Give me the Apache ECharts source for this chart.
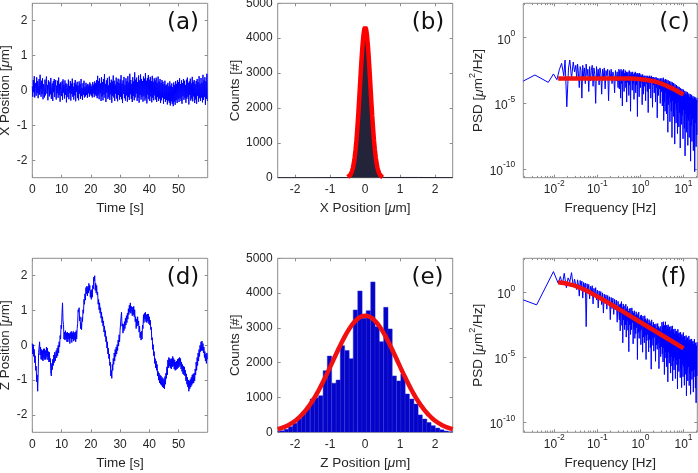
<!DOCTYPE html>
<html><head><meta charset="utf-8">
<script src="https://cdn.jsdelivr.net/npm/echarts@6/dist/echarts.min.js"></script>
<style>html,body{margin:0;padding:0;background:#fff}#c{width:698px;height:473px}</style>
</head><body><div id="c"></div>
<script>
// ---------------- DATA ----------------
const SAMPLE_PERIOD_S = 1 / 6;

const xPosition = [
0.12,-0.18,0.30,-0.05,0.41,-0.20,0.22,0.05,-0.15,0.38,-0.08,0.27,
-0.22,0.15,0.33,-0.12,0.45,0.02,-0.18,0.28,-0.10,0.35,-0.25,0.18,
0.06,-0.20,0.31,-0.14,0.24,0.40,-0.09,0.16,-0.28,0.29,0.03,-0.17,
0.25,-0.11,0.36,-0.24,0.12,0.20,-0.30,0.27,-0.05,0.33,-0.19,0.09,
0.30,-0.26,0.14,-0.08,0.28,-0.21,0.37,-0.13,0.19,-0.32,0.23,0.04,
-0.16,0.26,-0.27,0.32,-0.06,0.15,-0.23,0.29,-0.12,0.21,-0.34,0.18,
0.08,-0.19,0.31,-0.25,0.13,-0.07,0.27,-0.29,0.20,-0.10,0.34,-0.18,
0.11,-0.26,0.22,-0.14,0.30,-0.31,0.17,-0.04,0.25,-0.22,0.14,-0.28,
0.26,-0.09,0.19,-0.24,0.33,-0.16,0.07,-0.27,0.21,-0.12,0.28,-0.20,
0.10,-0.17,0.22,-0.13,0.16,-0.21,0.19,-0.08,0.14,-0.18,0.23,-0.11,
0.18,-0.15,0.12,-0.20,0.24,-0.09,0.17,-0.19,0.26,-0.12,0.21,-0.16,
0.30,-0.22,0.42,-0.14,0.27,-0.25,0.35,-0.08,0.20,-0.30,0.38,-0.17,
0.24,-0.28,0.33,-0.12,0.47,-0.21,0.19,-0.33,0.29,-0.06,0.36,-0.24,
0.15,-0.19,0.40,-0.27,0.22,-0.11,0.31,-0.35,0.26,-0.15,0.43,-0.20,
0.28,-0.30,0.17,-0.09,0.37,-0.23,0.25,-0.31,0.34,-0.13,0.21,-0.26,
0.32,-0.18,0.44,-0.25,0.20,-0.36,0.29,-0.10,0.39,-0.22,0.16,-0.29,
0.35,-0.14,0.27,-0.32,0.41,-0.19,0.23,-0.27,0.48,-0.11,0.30,-0.24,
0.19,-0.33,0.38,-0.16,0.26,-0.28,0.52,-0.20,0.31,-0.09,0.37,-0.30,
0.24,-0.21,0.43,-0.35,0.29,-0.13,0.46,-0.26,0.33,-0.18,0.27,-0.32,
0.40,-0.15,0.34,-0.29,0.50,-0.22,0.28,-0.37,0.36,-0.12,0.44,-0.25,
0.31,-0.30,0.39,-0.17,0.27,-0.34,0.42,-0.21,0.25,-0.28,0.35,-0.14,
0.29,-0.26,0.37,-0.33,0.22,-0.19,0.40,-0.30,0.26,-0.23,0.33,-0.36,
0.21,-0.28,0.30,-0.20,0.25,-0.38,0.18,-0.24,0.28,-0.33,0.15,-0.27,
0.17,-0.40,0.22,-0.29,0.12,-0.35,0.26,-0.43,0.14,-0.31,0.20,-0.38,
0.10,-0.45,0.23,-0.32,0.16,-0.41,0.27,-0.28,0.19,-0.36,0.30,-0.25,
0.24,-0.33,0.35,-0.22,0.18,-0.30,0.29,-0.38,0.21,-0.16,0.33,-0.27,
0.28,-0.21,0.16,-0.35,0.31,-0.24,0.37,-0.18,0.22,-0.40,0.26,-0.13,
0.34,-0.29,0.20,-0.23,0.39,-0.31,0.25,-0.17,0.30,-0.36,0.18,-0.26,
0.27,-0.38,0.33,-0.15,0.24,-0.32,0.41,-0.22,0.19,-0.30,0.36,-0.20,
0.22,-0.34,0.45,-0.27,0.29,-0.19,0.38,-0.41,0.26,-0.24,0.48,-0.30
];

const zPosition = [
0.05,-0.25,0.02,-0.32,-0.12,-0.50,-0.30,-0.72,-0.60,-1.05,-0.85,-1.32,
-0.85,-0.20,-0.25,0.10,-0.28,-0.05,-0.40,-0.12,-0.42,-0.15,-0.45,-0.10,
-0.38,-0.10,-0.42,-0.15,-0.40,-0.05,-0.33,-0.08,-0.42,-0.18,-0.48,-0.20,
-0.48,-0.38,-0.80,-0.88,-0.52,-0.70,-0.40,-0.58,-0.28,-0.50,-0.20,-0.45,
-0.42,-0.15,-0.36,-0.08,-0.30,0.00,-0.22,0.10,-0.05,0.28,0.18,0.58,
0.48,0.95,1.22,0.70,0.60,0.18,0.38,0.15,0.42,0.18,0.36,0.10,
0.38,0.10,0.35,0.18,0.34,0.05,0.37,0.20,0.40,0.08,0.36,0.18,
0.40,0.12,0.36,0.16,0.38,0.10,0.42,0.18,0.48,0.62,1.02,0.95,
1.08,0.70,0.82,0.48,0.66,0.45,0.80,0.68,1.02,0.92,1.32,1.18,
1.48,1.30,1.66,1.48,1.70,1.42,1.68,1.50,1.78,1.58,1.72,1.38,
1.58,1.32,1.60,1.38,1.72,1.62,1.96,1.85,2.00,1.58,1.78,1.50,
1.72,1.45,1.52,1.18,1.32,1.02,1.22,0.92,1.08,0.78,0.95,0.65,
0.82,0.55,0.70,0.38,0.55,0.25,0.42,0.10,0.25,-0.08,0.10,-0.25,
-0.08,-0.38,-0.25,-0.58,-0.48,-0.88,-0.72,-0.95,-0.55,-0.72,-0.38,-0.55,
-0.22,-0.45,-0.12,-0.32,-0.05,-0.25,0.02,-0.15,0.15,-0.02,0.30,0.10,
0.42,0.38,0.82,0.95,0.55,0.62,0.35,0.60,0.42,0.68,0.48,0.78,
0.58,0.85,0.65,0.92,0.75,1.05,0.88,1.15,0.95,1.22,0.92,1.12,
1.08,0.85,1.10,0.88,1.12,0.82,1.02,0.68,0.82,0.48,0.75,0.55,
0.82,0.58,0.70,0.38,0.55,0.22,0.38,0.15,0.40,0.18,0.58,0.48,
0.88,0.65,0.92,0.75,0.95,0.68,0.88,0.65,0.90,0.70,0.90,0.62,
0.82,0.58,0.72,0.45,0.52,0.15,0.22,-0.12,0.02,-0.30,-0.18,-0.52,
-0.38,-0.65,-0.45,-0.72,-0.55,-0.88,-0.75,-1.00,-0.80,-1.08,-0.85,-1.12,
-0.88,-1.15,-0.92,-1.20,-0.95,-1.22,-0.98,-1.25,-0.90,-1.12,-0.80,-0.95,
-0.62,-0.85,-0.42,-0.65,-0.35,-0.60,-0.38,-0.65,-0.40,-0.68,-0.38,-0.62,
-0.32,-0.60,-0.38,-0.68,-0.42,-0.72,-0.48,-0.70,-0.45,-0.68,-0.40,-0.65,
-0.38,-0.62,-0.35,-0.58,-0.38,-0.68,-0.48,-0.75,-0.55,-0.82,-0.60,-0.85,
-0.62,-0.88,-0.72,-1.02,-0.82,-1.12,-0.92,-1.20,-1.00,-1.32,-1.02,-1.25,
-0.98,-1.20,-0.92,-1.15,-0.85,-1.10,-0.82,-1.08,-0.80,-1.02,-0.68,-0.85,
-0.48,-0.72,-0.35,-0.58,-0.22,-0.45,-0.12,-0.32,0.00,-0.18,0.10,-0.15,
0.12,-0.15,0.05,-0.22,-0.05,-0.35,-0.18,-0.45,-0.25,-0.52,-0.22,-0.40
];

// (b) X histogram (step outline) and Gaussian fit
const xHistCenters = [-2.50,-0.54,-0.50,-0.46,-0.42,-0.38,-0.34,-0.30,-0.26,-0.22,-0.18,-0.14,-0.10,-0.06,-0.02,0.02,0.06,0.10,0.14,0.18,0.22,0.26,0.30,0.34,0.38,0.42,0.46,0.50,0.54,2.50];
const xHistCounts  = [0,6,15,36,80,170,320,590,940,1480,2080,2800,3420,3990,4280,4250,3950,3460,2760,2110,1450,970,570,340,165,90,40,18,7,0];
const xFitX = [-0.5,-0.475,-0.45,-0.425,-0.4,-0.375,-0.35,-0.325,-0.3,-0.275,-0.25,-0.225,-0.2,-0.175,-0.15,-0.125,-0.1,-0.075,-0.05,-0.025,0,0.025,0.05,0.075,0.1,0.125,0.15,0.175,0.2,0.225,0.25,0.275,0.3,0.325,0.35,0.375,0.4,0.425,0.45,0.475,0.5];
const xFitY = [17,29,48,78,123,190,284,413,585,804,1077,1403,1776,2187,2620,3053,3460,3812,4087,4260,4320,4260,4087,3812,3460,3053,2620,2187,1776,1403,1077,804,585,413,284,190,123,78,48,29,17];

// (e) Z histogram and Gaussian fit
const zHistBinWidth = 0.123;
const zHistCenters = [-2.50,-2.38,-2.25,-2.13,-2.01,-1.88,-1.76,-1.64,-1.51,-1.39,-1.27,-1.14,-1.02,-0.89,-0.77,-0.65,-0.52,-0.40,-0.28,-0.15,-0.03,0.09,0.22,0.34,0.46,0.59,0.71,0.83,0.96,1.08,1.20,1.33,1.45,1.57,1.70,1.82,1.94,2.07,2.19,2.31,2.44];
const zHistCounts  = [20,45,90,160,260,380,520,700,957,990,1050,1770,2190,1410,1500,2490,2350,2115,3515,4060,3275,3495,4320,3035,2605,3590,2970,1620,1475,1675,1100,955,810,500,380,280,190,120,70,35,15];
const zFitX = [-2.5,-2.4,-2.3,-2.2,-2.1,-2.0,-1.9,-1.8,-1.7,-1.6,-1.5,-1.4,-1.3,-1.2,-1.1,-1.0,-0.9,-0.8,-0.7,-0.6,-0.5,-0.4,-0.3,-0.2,-0.1,0,0.1,0.2,0.3,0.4,0.5,0.6,0.7,0.8,0.9,1.0,1.1,1.2,1.3,1.4,1.5,1.6,1.7,1.8,1.9,2.0,2.1,2.2,2.3,2.4,2.5];
const zFitY = [90,120,157,204,262,332,415,515,630,763,913,1079,1261,1458,1665,1879,2098,2314,2524,2721,2899,3054,3180,3273,3331,3350,3331,3273,3180,3054,2899,2721,2524,2314,2098,1879,1665,1458,1261,1079,913,763,630,515,415,332,262,204,157,120,90];

// (c),(f) PSD — frequencies and PSD given as log10 exponents
const psdXLowFreqLog10 = [-2.72,-2.45,-2.14,-2.02,-1.94,-1.88,-1.83,-1.78,-1.75,-1.71,-1.67,-1.64,-1.60,-1.56,-1.53];
const psdXLowLog10     = [-3.30,-2.84,-3.40,-2.76,-3.20,-2.40,-1.95,-2.90,-1.70,-5.26,-2.30,-1.70,-3.10,-1.85,-2.60];
const psdZLowFreqLog10 = [-2.72,-2.41,-2.02,-1.91,-1.86,-1.81,-1.77,-1.72,-1.68,-1.64,-1.60,-1.56,-1.53];
const psdZLowLog10     = [-0.59,-0.97,1.58,0.69,1.20,0.60,1.45,0.35,1.10,0.80,1.50,0.40,1.00];

const psdFreqLog10 = [
-1.50,-1.48,-1.46,-1.44,-1.42,-1.40,-1.38,-1.36,-1.34,-1.32,-1.30,-1.28,-1.26,-1.24,-1.22,-1.20,-1.18,-1.16,-1.14,-1.12,
-1.10,-1.08,-1.06,-1.04,-1.02,-1.00,-0.98,-0.96,-0.94,-0.92,-0.90,-0.88,-0.86,-0.84,-0.82,-0.80,-0.78,-0.76,-0.74,-0.72,
-0.70,-0.68,-0.66,-0.64,-0.62,-0.60,-0.58,-0.56,-0.54,-0.52,
-0.50,-0.49,-0.48,-0.47,-0.46,-0.45,-0.44,-0.43,-0.42,-0.41,-0.40,-0.39,-0.38,-0.37,-0.36,-0.35,-0.34,-0.33,-0.32,-0.31,
-0.30,-0.29,-0.28,-0.27,-0.26,-0.25,-0.24,-0.23,-0.22,-0.21,-0.20,-0.19,-0.18,-0.17,-0.16,-0.15,-0.14,-0.13,-0.12,-0.11,
-0.10,-0.09,-0.08,-0.07,-0.06,-0.05,-0.04,-0.03,-0.02,-0.01,0.00,0.01,0.02,0.03,0.04,0.05,0.06,0.07,0.08,0.09,
0.10,0.11,0.12,0.13,0.14,0.15,0.16,0.17,0.18,0.19,0.20,0.21,0.22,0.23,0.24,0.25,0.26,0.27,0.28,0.29,
0.30,0.31,0.32,0.33,0.34,0.35,0.36,0.37,0.38,0.39,0.40,0.41,0.42,0.43,0.44,0.45,0.46,0.47,0.48,0.49,
0.500,0.508,0.516,0.524,0.532,0.540,0.548,0.556,0.564,0.572,0.580,0.588,0.596,0.604,0.612,0.620,0.628,0.636,0.644,0.652,
0.660,0.668,0.676,0.684,0.692,0.700,0.708,0.716,0.724,0.732,0.740,0.748,0.756,0.764,0.772,0.780,0.788,0.796,0.804,0.812,
0.820,0.828,0.836,0.844,0.852,0.860,0.868,0.876,0.884,0.892,0.900,0.908,0.916,0.924,0.932,0.940,0.948,0.956,0.964,0.972,
0.980,0.988,0.996,1.004,1.012,1.020,1.028,1.036,1.044,1.052,1.060,1.068,1.076,1.084,1.092,1.100,1.108,1.116,1.124,1.132,
1.140,1.148,1.156,1.164,1.172,1.180,1.188,1.196,1.204,1.212,1.220,1.228,1.236,1.244,1.252,1.260,1.268,1.276,1.284,1.292,
1.300,1.308,1.316
];

const psdXLog10 = [
-2.1,-3.2,-2.0,-2.7,-3.8,-2.2,-2.5,-4.6,-2.1,-3.0,-2.3,-3.5,-2.0,-2.9,-2.4,-4.1,-2.2,-3.3,-2.5,-2.1,
-3.7,-2.3,-2.8,-5.0,-2.2,-3.1,-2.4,-3.6,-2.3,-2.7,-4.3,-2.4,-3.0,-2.3,-3.9,-2.5,-2.9,-2.4,-4.8,-2.5,
-3.2,-2.4,-3.5,-2.6,-2.9,-4.2,-2.5,-3.3,-2.6,-3.8,
-2.4,-3.9,-2.5,-3.2,-4.6,-2.4,-3.5,-2.6,-5.2,-2.5,-3.3,-2.4,-4.1,-2.7,-3.0,-2.5,-3.8,-2.6,-4.9,-2.7,
-3.4,-2.6,-3.1,-4.4,-2.5,-3.6,-2.8,-5.6,-2.6,-3.2,-2.7,-4.0,-2.6,-3.5,-2.8,-4.7,-2.7,-3.1,-2.6,-4.2,
-2.8,-3.6,-2.7,-6.0,-2.7,-3.3,-2.8,-4.5,-2.7,-3.0,-3.8,-2.8,-3.4,-2.9,-5.1,-2.8,-3.2,-4.3,-2.9,-3.7,
-2.9,-3.1,-4.8,-2.9,-3.5,-3.0,-4.1,-2.9,-5.7,-3.0,-3.3,-2.9,-3.9,-3.0,-4.6,-2.9,-3.4,-3.0,-5.3,-3.0,
-3.6,-3.0,-4.2,-3.1,-3.3,-4.9,-3.0,-3.8,-3.1,-6.1,-3.1,-3.5,-4.4,-3.1,-3.9,-3.2,-5.0,-3.1,-3.6,-4.1,
-3.10,-5.20,-3.30,-4.40,-3.05,-6.30,-3.20,-4.90,-3.35,-5.60,-3.15,-4.20,-3.40,
-5.80,-3.20,-4.70,-3.45,-7.20,-3.25,-5.10,-3.50,-4.50,-3.30,-6.40,-3.55,-4.90,
-3.35,-5.60,-3.60,-7.60,-3.40,-4.80,-3.70,-6.00,-3.45,-5.30,-3.75,-8.10,
-3.55,-5.00,-3.80,-6.50,-3.60,-5.50,-3.85,-7.30,-3.70,-4.90,-3.95,-6.80,-3.75,
-5.70,-4.00,-8.40,-3.85,-5.20,-4.05,-6.60,-3.90,-5.90,-4.15,-7.70,-3.95,
-5.50,-4.20,-6.90,-4.05,-9.00,-4.25,-5.80,-4.10,-7.20,-4.35,-6.10,-4.15,-8.20,
-4.40,-6.30,-4.25,-7.60,-4.50,-5.90,-4.30,-9.40,-4.55,-6.70,-4.35,-7.90,
-4.60,-6.20,-4.45,-8.60,-4.65,-7.00,-4.50,-10.2,-4.70,-6.50,-4.55,-8.30,-4.75,
-7.40,-4.60
];

const psdZLog10 = [
1.05,0.20,0.95,0.55,-0.30,0.90,0.40,0.85,-0.45,0.75,0.35,0.70,-2.64,0.65,0.10,0.60,-0.50,0.45,0.05,0.50,
-0.90,0.30,-0.35,0.35,-0.60,0.15,-1.20,0.10,-0.55,0.05,-0.95,-0.05,-1.60,-0.15,-0.85,-0.20,-1.30,-0.25,-0.95,-0.35,
-2.10,-0.40,-1.25,-0.45,-1.70,-0.55,-1.35,-0.60,-2.30,-0.70,
-0.70,-2.12,-0.94,-2.96,-0.88,-1.70,-0.72,-2.54,-1.16,-3.88,-0.90,-2.12,-1.04,-2.86,-1.38,-2.50,-0.92,-3.44,-1.26,-2.18,
-1.10,-2.92,-1.44,-4.56,-1.28,-2.50,-1.22,-3.24,-1.66,-2.88,-1.20,-2.32,-1.44,-3.96,-1.58,-2.80,-1.42,-3.54,-1.76,-3.18,
-1.50,-2.72,-1.64,-5.16,-1.78,-3.10,-1.52,-3.54,-1.96,-2.98,-1.80,-4.02,-1.74,-2.86,-1.98,-4.60,-1.82,-3.44,-2.16,-3.88,
-1.80,-3.32,-2.04,-5.16,-2.18,-3.70,-2.02,-3.24,-2.36,-4.58,-2.10,-3.62,-2.24,-4.26,-2.38,-5.90,-2.12,-3.54,-2.56,-4.08,
-2.30,-4.52,-2.44,-3.46,-2.58,-5.30,-2.42,-4.04,-2.76,-4.38,-2.40,-3.92,-2.64,-5.86,-2.78,-4.30,-2.62,-4.94,-2.96,-4.18,
-2.30,-4.72,-2.63,-5.35,-2.26,-4.28,-2.60,-6.31,-2.53,-5.04,-2.26,-4.58,-2.89,-5.71,-2.52,-5.04,-2.66,-6.87,-2.49,-4.60,
-2.82,-5.44,-2.65,-4.97,-2.98,-6.20,-2.62,-4.93,-2.85,-5.66,-2.58,-6.80,-3.01,-5.23,-2.84,-5.96,-3.18,-4.99,-2.81,-6.62,
-3.04,-5.56,-2.97,-5.19,-3.20,-7.42,-2.84,-5.55,-3.17,-6.08,-3.10,-5.12,-3.43,-6.55,-3.06,-5.88,-3.30,-7.31,-3.23,-5.54,
-3.46,-6.48,-3.09,-5.71,-3.42,-7.14,-3.36,-5.47,-3.69,-6.30,-3.32,-7.94,-3.55,-5.97,-3.48,-6.80,-3.72,-5.73,-3.35,-7.16,
-3.68,-6.20,-3.61,-7.83,-3.94,-6.06,-3.58,-6.69,-3.81,-6.02,-3.74,-7.66,-3.97,-6.49,-3.60,-5.92,-3.94,-7.35,-3.87,-8.48,
-4.10,-6.42,-3.83
];

const psdXFitFreqLog10 = [-1.91,-1.5,-1.0,-0.5,-0.25,0,0.25,0.4,0.5,0.6,0.7,0.8,0.9,1.0];
const psdXFitLog10     = [-3.10,-3.10,-3.10,-3.10,-3.11,-3.16,-3.28,-3.40,-3.51,-3.65,-3.80,-3.97,-4.15,-4.33];
const psdZFitFreqLog10 = [-1.91,-1.75,-1.6,-1.5,-1.4,-1.25,-1.2,-1.1,-1.0,-0.75,-0.5,-0.25,0,0.25,0.5,0.75,1.0];
const psdZFitLog10     = [0.77,0.69,0.57,0.47,0.34,0.11,0.03,-0.15,-0.33,-0.81,-1.30,-1.80,-2.30,-2.80,-3.30,-3.80,-4.30];

// ---------------- STYLE / LAYOUT ----------------
const FONT = 'Liberation Sans';
const FRAME = '#8c8c8c';
const INK = '#262626';
const BLUE = '#0000ff';
const RED = '#f01010';

const nameRich = {
  n: {fontFamily: FONT, fontSize: 13.5, color: INK},
  i: {fontFamily: FONT, fontSize: 13.5, color: INK, fontStyle: 'italic'}
};
const nameRichPSD = {
  n: {fontFamily: FONT, fontSize: 13.5, color: INK, lineHeight: 18, verticalAlign: 'bottom'},
  i: {fontFamily: FONT, fontSize: 13.5, color: INK, lineHeight: 18, verticalAlign: 'bottom', fontStyle: 'italic'},
  s: {fontFamily: FONT, fontSize: 9, color: INK, verticalAlign: 'top'}
};
const supRich = {
  b: {fontFamily: FONT, fontSize: 12, color: INK, lineHeight: 17, verticalAlign: 'bottom'},
  s: {fontFamily: FONT, fontSize: 8.5, color: INK, verticalAlign: 'top'}
};
const pow10Label = v => '{b|10}{s|' + Math.round(v) + '}';
const plainLabel = v => String(v);

const gridBoxes = [
  {left: 32.3, top: 3.3, width: 175.4, height: 174.4},
  {left: 277.7, top: 3.3, width: 175, height: 174.4},
  {left: 523.3, top: 3.3, width: 174, height: 174.4},
  {left: 32.3, top: 258.3, width: 175.4, height: 174},
  {left: 277.7, top: 258.3, width: 175, height: 174},
  {left: 523.3, top: 258.3, width: 174, height: 174}
];
const grid = gridBoxes.map(g => Object.assign({
  show: true, borderColor: FRAME, borderWidth: 1, backgroundColor: 'transparent',
  containLabel: false, outerBoundsMode: 'none'
}, g));

function makeAxis(gi, pos, o) {
  const a = {
    type: 'value', gridIndex: gi, position: pos, min: o.min, max: o.max,
    axisLine: {show: false, onZero: false}, splitLine: {show: false},
    axisTick: {show: true, inside: true, length: o.tickLen || 3, customValues: o.ticks,
               lineStyle: {color: FRAME, width: 1}},
    axisLabel: {show: false}
  };
  if (o.labels) {
    a.axisLabel = {show: true, customValues: o.ticks, margin: o.margin, formatter: o.formatter,
      color: INK, fontFamily: FONT, fontSize: 12, rich: o.rich, hideOverlap: false,
      showMinLabel: true, showMaxLabel: true};
  }
  if (o.name) {
    a.name = o.name; a.nameLocation = 'middle'; a.nameGap = o.nameGap;
    a.nameTextStyle = {color: INK, fontFamily: FONT, fontSize: 13.5, rich: o.nameRich || nameRich};
  }
  return a;
}

const xAxis = [], yAxis = [];
function addPanel(gi, xo, yo, minorX) {
  const xi = xAxis.push(makeAxis(gi, 'bottom', Object.assign({labels: true}, xo))) - 1;
  xAxis.push(makeAxis(gi, 'top', {min: xo.min, max: xo.max, ticks: xo.ticks}));
  if (minorX) {
    xAxis.push(makeAxis(gi, 'bottom', {min: xo.min, max: xo.max, ticks: minorX, tickLen: 1.8}));
    xAxis.push(makeAxis(gi, 'top', {min: xo.min, max: xo.max, ticks: minorX, tickLen: 1.8}));
  }
  const yi = yAxis.push(makeAxis(gi, 'left', Object.assign({labels: true}, yo))) - 1;
  yAxis.push(makeAxis(gi, 'right', {min: yo.min, max: yo.max, ticks: yo.ticks}));
  return {xAxisIndex: xi, yAxisIndex: yi};
}

const FMIN = -2.72, FMAX = 1.32;
const logMinor = [];
for (let d = -3; d <= 1; d++) for (let k = 2; k <= 9; k++) {
  const v = d + Math.log10(k);
  if (v > FMIN && v < FMAX) logMinor.push(v);
}

const timeX = {min: 0, max: 59.95, ticks: [0,10,20,30,40,50], margin: 6, formatter: plainLabel, name: '{n|Time [s]}', nameGap: 24};
const posY = name => ({min: -2.5, max: 2.5, ticks: [-2,-1,0,1,2], margin: 5, formatter: plainLabel, name: name, nameGap: 17});
const histX = name => ({min: -2.5, max: 2.5, ticks: [-2,-1,0,1,2], margin: 6, formatter: plainLabel, name: name, nameGap: 24});
const countY = {min: 0, max: 5000, ticks: [0,1000,2000,3000,4000,5000], margin: 5, formatter: plainLabel, name: '{n|Counts [#]}', nameGap: 34};
const freqX = {min: FMIN, max: FMAX, ticks: [-2,-1,0,1], margin: 1, formatter: pow10Label, rich: supRich, name: '{n|Frequency [Hz]}', nameGap: 24};
const psdY = (mn, mx) => ({min: mn, max: mx, ticks: [-10,-5,0], margin: 8, formatter: pow10Label, rich: supRich,
  name: '{n|PSD [}{i|μ}{n|m}{s|2}{n|/Hz]}', nameRich: nameRichPSD, nameGap: 33});

const pA = addPanel(0, timeX, posY('{n|X Position [}{i|μ}{n|m]}'));
const pB = addPanel(1, histX('{n|X Position [}{i|μ}{n|m]}'), countY);
const pC = addPanel(2, freqX, psdY(-10.66, 2.62), logMinor);
const pD = addPanel(3, timeX, posY('{n|Z Position [}{i|μ}{n|m]}'));
const pE = addPanel(4, histX('{n|Z Position [}{i|μ}{n|m]}'), countY);
const pF = addPanel(5, freqX, psdY(-10.74, 2.6), logMinor);

const lineBase = {type: 'line', showSymbol: false, symbol: 'none', silent: true, clip: true, animation: false};
const pairs = (xs, ys) => xs.map((x, i) => [x, ys[i]]);

const series = [
  Object.assign({}, lineBase, pA, {data: xPosition.map((v, i) => [i * SAMPLE_PERIOD_S, v]),
    lineStyle: {color: BLUE, width: 1}}),
  Object.assign({}, lineBase, pB, {data: pairs(xHistCenters, xHistCounts), step: 'middle',
    lineStyle: {color: '#1e1e30', width: 1}, areaStyle: {color: '#23233a', opacity: 1}}),
  Object.assign({}, lineBase, pB, {data: pairs(xFitX, xFitY), lineStyle: {color: '#ff0000', width: 4.5}}),
  Object.assign({}, lineBase, pC, {data: pairs(psdXLowFreqLog10, psdXLowLog10).concat(pairs(psdFreqLog10, psdXLog10)),
    lineStyle: {color: BLUE, width: 1}}),
  Object.assign({}, lineBase, pC, {data: pairs(psdXFitFreqLog10, psdXFitLog10), smooth: true,
    lineStyle: {color: RED, width: 4.5}}),
  Object.assign({}, lineBase, pD, {data: zPosition.map((v, i) => [i * SAMPLE_PERIOD_S, v]),
    lineStyle: {color: BLUE, width: 1}}),
  Object.assign({type: 'custom', silent: true, animation: false, clip: true}, pE, {
    data: pairs(zHistCenters, zHistCounts),
    renderItem: function (params, api) {
      const c = api.value(0), n = api.value(1);
      const p0 = api.coord([c - zHistBinWidth / 2, n]);
      const p1 = api.coord([c + zHistBinWidth / 2, 0]);
      const cs = params.coordSys;
      const r = echarts.graphic.clipRectByRect(
        {x: p0[0], y: p0[1], width: p1[0] - p0[0], height: p1[1] - p0[1]},
        {x: cs.x, y: cs.y, width: cs.width, height: cs.height});
      return r && {type: 'rect', shape: r, style: {fill: '#0404c8', stroke: '#2626d6', lineWidth: 0.5}};
    }
  }),
  Object.assign({}, lineBase, pE, {data: pairs(zFitX, zFitY), smooth: true, lineStyle: {color: RED, width: 4.5}}),
  Object.assign({}, lineBase, pF, {data: pairs(psdZLowFreqLog10, psdZLowLog10).concat(pairs(psdFreqLog10, psdZLog10)),
    lineStyle: {color: BLUE, width: 1}}),
  Object.assign({}, lineBase, pF, {data: pairs(psdZFitFreqLog10, psdZFitLog10), smooth: true,
    lineStyle: {color: RED, width: 4.5}})
];

const panelTags = [['(a)', 183, 23], ['(b)', 428, 23], ['(c)', 674.5, 23],
                   ['(d)', 183, 278], ['(e)', 427.5, 278], ['(f)', 673.5, 278]];
const graphic = panelTags.map(t => ({
  type: 'text', x: t[1], y: t[2], z: 100, silent: true,
  style: {text: t[0], fontFamily: 'DejaVu Sans', fontSize: 23, fill: '#111111',
          textAlign: 'center', textVerticalAlign: 'middle', align: 'center', verticalAlign: 'middle'}
}));

const chart = echarts.init(document.getElementById('c'), null, {renderer: 'canvas'});
chart.setOption({animation: false, backgroundColor: '#ffffff', grid, xAxis, yAxis, series, graphic});
</script></body></html>
